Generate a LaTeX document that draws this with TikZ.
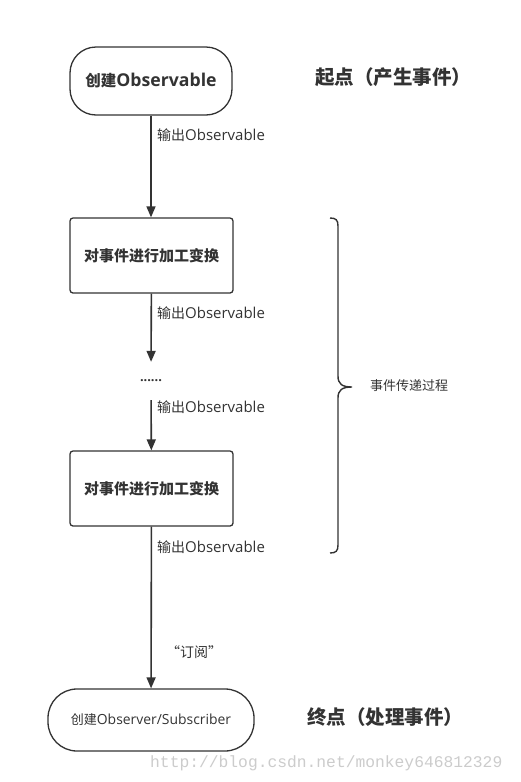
\documentclass[tikz,border=0pt]{standalone}
\usepackage{fontspec}
\setmainfont{Open Sans}[Scale=1.07]
\newfontfamily\cjk{Noto Sans CJK SC}
\newfontfamily\wmfont{Liberation Mono}
\newcommand{\zh}[1]{{\cjk #1}}
\usetikzlibrary{arrows.meta}
\definecolor{ink}{HTML}{333333}
\begin{document}
\begin{tikzpicture}[x=1pt,y=-1pt,
  every node/.style={text=ink},
  pill/.style={draw=ink,line width=1.3pt,inner sep=0pt,align=center},
  procbox/.style={draw=ink,line width=1.3pt,rounded corners=3pt,minimum width=163pt,minimum height=75pt,inner sep=0pt,font=\bfseries\fontsize{15}{18}\selectfont},
  arr/.style={draw=ink,line width=1.6pt,-{Triangle[length=11pt,width=9pt]}},
  lbl/.style={anchor=west,inner sep=0pt,font=\fontsize{14}{16}\selectfont},
  ttl/.style={anchor=west,inner sep=0pt,font=\bfseries\fontsize{19.5}{22}\selectfont}]
\useasboundingbox (0,0) rectangle (521,782);
\fill[white] (0,0) rectangle (521,782);

\node[pill,rounded corners=26pt,minimum width=162pt,minimum height=68pt,font=\bfseries\fontsize{15.5}{18}\selectfont] (start) at (151,81) {\zh{创建}{\fontsize{16.5}{18}\selectfont Observable}};
\node[procbox] (t1) at (151.5,255.5) {\zh{对事件进行加工变换}};
\node[inner sep=0pt,minimum height=38pt,font=\bfseries\fontsize{12}{14}\selectfont] (dots) at (151,381) {......};
\node[procbox] (t2) at (151.5,488.5) {\zh{对事件进行加工变换}};
\node[pill,rounded corners=29pt,minimum width=206pt,minimum height=62pt,font=\fontsize{13}{16}\selectfont] (end) at (151,720) {\zh{创建}Observer/Subscriber};

\draw[arr] (start) -- (start |- t1.north);
\draw[arr] (t1) -- (dots);
\draw[arr] (dots) -- (t2);
\draw[arr] (t2) -- (end);

\node[lbl] (l1) at (157,135) {\zh{输出}Observable};
\node[lbl] (l2) at (157,313) {\zh{输出}Observable};
\node[lbl] (l3) at (157,407) {\zh{输出}Observable};
\node[lbl] (l4) at (157,547) {\zh{输出}Observable};
\node[lbl] (l5) at (166,652) {\zh{“订阅”}};

\node[ttl] (ts) at (315,77) {\zh{起点（产生事件）}};
\node[ttl] (te) at (307,717) {\zh{终点（处理事件）}};

\coordinate (bt) at (352,387);
\draw[draw=ink,line width=1.4pt] (330,218) .. controls (336,218) and (338,220) .. (338,226) -- (338,376) .. controls (338,384) and (342,387) .. (bt) .. controls (342,387) and (338,390) .. (338,398) -- (338,545) .. controls (338,551) and (336,553) .. (330,553);
\node[anchor=west,inner sep=0pt,font=\fontsize{13}{16}\selectfont] (bl) at (370,386) {\zh{事件传递过程}};

\node[anchor=west,inner sep=0pt,text=black!20,font=\wmfont\fontsize{16.3}{18}\selectfont] (wm) at (150,763) {http://blog.csdn.net/monkey646812329};
\end{tikzpicture}
\end{document}
